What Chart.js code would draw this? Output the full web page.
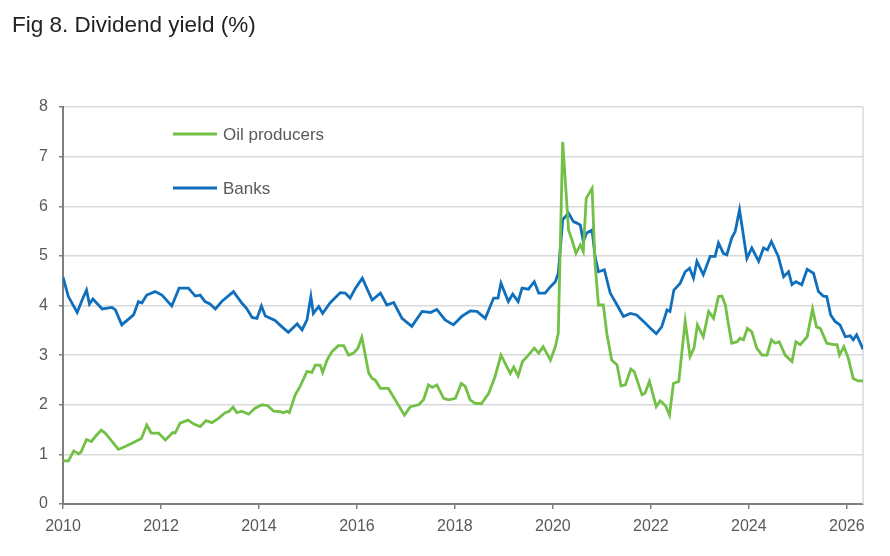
<!DOCTYPE html>
<html>
<head>
<meta charset="utf-8">
<script src="https://cdn.jsdelivr.net/npm/chart.js@4.4.1/dist/chart.umd.min.js"></script>
<style>
  body { margin: 0; background: #fff; }
  #wrap { position: relative; width: 890px; height: 556px; }
  #title { position: absolute; left: 12px; top: 12px; font: 22.5px "Liberation Sans", Arial, sans-serif; color: #222; }
  canvas { position: absolute; left: 0; top: 0; }
</style>
</head>
<body>
<div id="wrap">
  <canvas id="yieldChart" width="890" height="556"></canvas>
  <div id="title">Fig 8. Dividend yield (%)</div>
</div>
<script>
// x tick labels (years)
const yearTicks = [2010, 2012, 2014, 2016, 2018, 2020, 2022, 2024, 2026];

// Banks - dates as decimal years, yield in %
const bankDates = [2010.00, 2010.11, 2010.29, 2010.39, 2010.48, 2010.54, 2010.61, 2010.80, 2011.00, 2011.07,
  2011.20, 2011.44, 2011.54, 2011.61, 2011.71, 2011.88, 2012.02, 2012.22, 2012.37, 2012.56,
  2012.70, 2012.80, 2012.90, 2013.00, 2013.11, 2013.24, 2013.48, 2013.65, 2013.75, 2013.86,
  2013.96, 2014.05, 2014.13, 2014.33, 2014.47, 2014.60, 2014.78, 2014.88, 2014.98, 2015.06,
  2015.11, 2015.22, 2015.30, 2015.45, 2015.66, 2015.76, 2015.86, 2015.97, 2016.11, 2016.31,
  2016.48, 2016.61, 2016.75, 2016.92, 2017.12, 2017.33, 2017.50, 2017.63, 2017.80, 2017.97,
  2018.14, 2018.31, 2018.45, 2018.62, 2018.79, 2018.88, 2018.94, 2019.09, 2019.18, 2019.29,
  2019.37, 2019.50, 2019.62, 2019.71, 2019.84, 2019.95, 2020.05, 2020.11, 2020.20, 2020.32,
  2020.42, 2020.49, 2020.56, 2020.62, 2020.69, 2020.80, 2020.86, 2020.93, 2021.05, 2021.17,
  2021.31, 2021.44, 2021.58, 2021.71, 2021.85, 2021.99, 2022.11, 2022.22, 2022.33, 2022.39,
  2022.47, 2022.60, 2022.70, 2022.79, 2022.87, 2022.94, 2023.07, 2023.21, 2023.31, 2023.38,
  2023.48, 2023.55, 2023.65, 2023.72, 2023.81, 2023.96, 2024.06, 2024.20, 2024.30, 2024.38,
  2024.46, 2024.60, 2024.71, 2024.81, 2024.88, 2024.96, 2025.08, 2025.19, 2025.32, 2025.42,
  2025.52, 2025.59, 2025.67, 2025.76, 2025.86, 2025.97, 2026.07, 2026.13, 2026.20, 2026.33];
const bankYield = [4.57, 4.18, 3.86, 4.11, 4.31, 4.03, 4.13, 3.93, 3.96, 3.91,
  3.61, 3.81, 4.08, 4.05, 4.21, 4.28, 4.21, 3.99, 4.35, 4.35,
  4.19, 4.21, 4.08, 4.03, 3.93, 4.08, 4.28, 4.05, 3.94, 3.76,
  3.74, 3.99, 3.79, 3.70, 3.57, 3.46, 3.63, 3.51, 3.71, 4.18,
  3.84, 3.98, 3.84, 4.05, 4.26, 4.25, 4.15, 4.35, 4.55, 4.11,
  4.25, 4.01, 4.06, 3.74, 3.58, 3.88, 3.86, 3.92, 3.71, 3.61,
  3.78, 3.89, 3.88, 3.74, 4.15, 4.15, 4.45, 4.08, 4.23, 4.08,
  4.35, 4.33, 4.48, 4.25, 4.25, 4.38, 4.48, 4.65, 5.73, 5.86,
  5.69, 5.66, 5.62, 5.29, 5.46, 5.52, 4.99, 4.68, 4.72, 4.25,
  4.01, 3.78, 3.84, 3.81, 3.68, 3.54, 3.43, 3.57, 3.91, 3.88,
  4.31, 4.45, 4.68, 4.75, 4.55, 4.89, 4.62, 4.99, 4.99, 5.26,
  5.05, 5.02, 5.36, 5.49, 5.93, 4.95, 5.16, 4.89, 5.16, 5.12,
  5.29, 4.99, 4.58, 4.68, 4.42, 4.48, 4.42, 4.73, 4.65, 4.28,
  4.19, 4.18, 3.81, 3.68, 3.61, 3.37, 3.39, 3.31, 3.41, 3.12];

// Oil producers
const oilDates = [2010.00, 2010.11, 2010.22, 2010.32, 2010.37, 2010.48, 2010.58, 2010.66, 2010.78, 2010.86,
  2011.00, 2011.13, 2011.27, 2011.44, 2011.60, 2011.71, 2011.80, 2011.95, 2012.09, 2012.24,
  2012.29, 2012.39, 2012.55, 2012.67, 2012.80, 2012.92, 2013.04, 2013.18, 2013.31, 2013.38,
  2013.47, 2013.55, 2013.65, 2013.79, 2013.92, 2014.06, 2014.18, 2014.30, 2014.43, 2014.50,
  2014.57, 2014.62, 2014.74, 2014.84, 2014.98, 2015.08, 2015.15, 2015.25, 2015.30, 2015.39,
  2015.49, 2015.62, 2015.73, 2015.83, 2015.93, 2016.02, 2016.10, 2016.24, 2016.31, 2016.37,
  2016.48, 2016.64, 2016.78, 2016.97, 2017.09, 2017.26, 2017.36, 2017.46, 2017.54, 2017.63,
  2017.77, 2017.87, 2018.01, 2018.13, 2018.21, 2018.31, 2018.41, 2018.54, 2018.69, 2018.82,
  2018.94, 2019.06, 2019.13, 2019.20, 2019.29, 2019.38, 2019.50, 2019.62, 2019.71, 2019.80,
  2019.95, 2020.05, 2020.11, 2020.20, 2020.32, 2020.39, 2020.47, 2020.56, 2020.62, 2020.68,
  2020.80, 2020.86, 2020.93, 2021.03, 2021.10, 2021.20, 2021.31, 2021.39, 2021.48, 2021.59,
  2021.66, 2021.82, 2021.88, 2021.97, 2022.11, 2022.19, 2022.30, 2022.38, 2022.46, 2022.57,
  2022.70, 2022.80, 2022.88, 2022.95, 2023.07, 2023.18, 2023.28, 2023.38, 2023.45, 2023.52,
  2023.58, 2023.65, 2023.76, 2023.82, 2023.89, 2023.97, 2024.06, 2024.16, 2024.27, 2024.37,
  2024.46, 2024.54, 2024.62, 2024.74, 2024.88, 2024.96, 2025.05, 2025.19, 2025.30, 2025.38,
  2025.46, 2025.59, 2025.73, 2025.80, 2025.85, 2025.94, 2026.03, 2026.13, 2026.23, 2026.33];
const oilYield = [0.87, 0.87, 1.07, 1.01, 1.05, 1.30, 1.26, 1.36, 1.49, 1.43,
  1.26, 1.10, 1.16, 1.24, 1.32, 1.59, 1.43, 1.43, 1.29, 1.44,
  1.43, 1.63, 1.69, 1.61, 1.56, 1.68, 1.64, 1.73, 1.84, 1.86,
  1.95, 1.84, 1.87, 1.81, 1.93, 2.00, 1.98, 1.87, 1.86, 1.84,
  1.87, 1.84, 2.20, 2.37, 2.67, 2.65, 2.80, 2.80, 2.65, 2.90,
  3.07, 3.19, 3.19, 3.00, 3.04, 3.14, 3.36, 2.64, 2.53, 2.50,
  2.33, 2.33, 2.10, 1.79, 1.96, 2.00, 2.10, 2.40, 2.35, 2.40,
  2.13, 2.10, 2.13, 2.43, 2.37, 2.10, 2.03, 2.02, 2.23, 2.57,
  3.00, 2.77, 2.63, 2.76, 2.58, 2.87, 3.00, 3.14, 3.04, 3.17,
  2.90, 3.17, 3.44, 7.30, 5.52, 5.32, 5.05, 5.22, 5.09, 6.16,
  6.36, 4.85, 4.01, 4.01, 3.44, 2.90, 2.80, 2.38, 2.40, 2.72,
  2.67, 2.20, 2.23, 2.47, 1.96, 2.08, 1.98, 1.79, 2.43, 2.47,
  3.68, 2.97, 3.14, 3.61, 3.37, 3.88, 3.74, 4.18, 4.19, 4.01,
  3.64, 3.24, 3.27, 3.34, 3.31, 3.54, 3.47, 3.14, 3.00, 3.00,
  3.31, 3.24, 3.27, 3.00, 2.87, 3.27, 3.21, 3.37, 3.93, 3.57,
  3.54, 3.24, 3.21, 3.21, 3.00, 3.17, 2.94, 2.53, 2.48, 2.48];

const oilColor = '#72c045';
const bankColor = '#0f6fbd';
const axisColor = '#7f7f7f';
const gridColor = '#d9d9d9';
const labelColor = '#595959';
const fontFamily = '"Liberation Sans", Arial, sans-serif';

function toPoints(dates, values) {
  return dates.map((d, i) => ({ x: d, y: values[i] }));
}

// draws the in-plot legend and the light right border
const chartExtras = {
  id: 'chartExtras',
  beforeDatasetsDraw(chart) {
    const { ctx, chartArea } = chart;
    ctx.save();
    ctx.strokeStyle = gridColor;
    ctx.lineWidth = 1.5;
    ctx.beginPath();
    ctx.moveTo(chartArea.right, chartArea.top);
    ctx.lineTo(chartArea.right, chartArea.bottom);
    ctx.stroke();
    ctx.restore();
  },
  afterDraw(chart) {
    const { ctx, chartArea } = chart;
    const items = [
      { label: 'Oil producers', color: oilColor, dy: 27 },
      { label: 'Banks', color: bankColor, dy: 81 }
    ];
    ctx.save();
    ctx.font = '17px ' + fontFamily;
    ctx.textBaseline = 'middle';
    items.forEach(it => {
      const x = chartArea.left + 110;
      const y = chartArea.top + it.dy;
      ctx.strokeStyle = it.color;
      ctx.lineWidth = 3;
      ctx.beginPath();
      ctx.moveTo(x, y);
      ctx.lineTo(x + 44, y);
      ctx.stroke();
      ctx.fillStyle = labelColor;
      ctx.fillText(it.label, x + 50, y + 1);
    });
    ctx.restore();
  }
};

new Chart(document.getElementById('yieldChart').getContext('2d'), {
  type: 'line',
  data: {
    datasets: [
      {
        label: 'Oil producers',
        data: toPoints(oilDates, oilYield),
        borderColor: oilColor,
        backgroundColor: oilColor,
        borderWidth: 2.8,
        pointRadius: 0,
        tension: 0
      },
      {
        label: 'Banks',
        data: toPoints(bankDates, bankYield),
        borderColor: bankColor,
        backgroundColor: bankColor,
        borderWidth: 2.8,
        pointRadius: 0,
        tension: 0
      }
    ]
  },
  options: {
    responsive: false,
    animation: false,
    layout: { padding: { top: 107, right: 27, left: 0, bottom: 0 } },
    plugins: {
      legend: { display: false },
      tooltip: { enabled: false }
    },
    scales: {
      x: {
        type: 'linear',
        min: 2010,
        max: 2026.33,
        afterFit(scale) { scale.height = 52; },
        afterBuildTicks(scale) { scale.ticks = yearTicks.map(v => ({ value: v })); },
        grid: { drawOnChartArea: false, tickLength: 5, color: axisColor, lineWidth: 1.5 },
        border: { color: axisColor, width: 2 },
        ticks: {
          color: labelColor,
          font: { family: fontFamily, size: 16 },
          padding: 8,
          maxRotation: 0,
          callback: v => String(v)
        }
      },
      y: {
        min: 0,
        max: 8,
        afterFit(scale) { scale.width = 63; },
        grid: {
          color: ctx => ctx.tick && ctx.tick.value === 0 ? 'rgba(0,0,0,0)' : gridColor,
          tickColor: axisColor,
          lineWidth: 1.5,
          tickLength: 4
        },
        border: { color: axisColor, width: 2 },
        ticks: {
          stepSize: 1,
          color: labelColor,
          font: { family: fontFamily, size: 16 },
          padding: 11
        }
      }
    }
  },
  plugins: [chartExtras]
});
</script>
</body>
</html>
